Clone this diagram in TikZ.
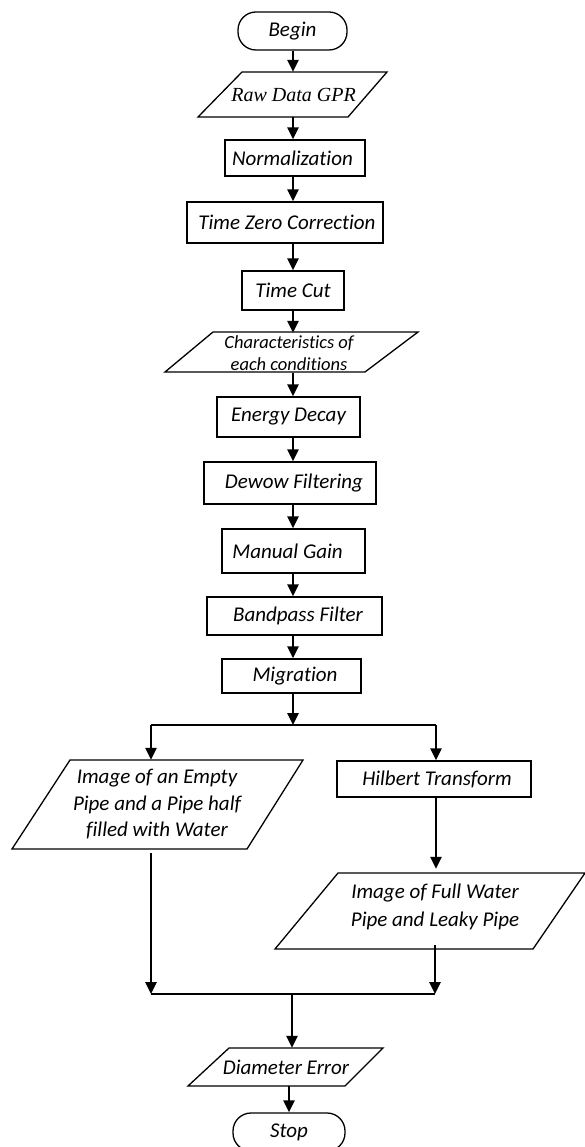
\documentclass[tikz,border=0pt]{standalone}
\usepackage{fontspec}
\setmainfont{Carlito}[Ligatures=NoCommon]
\newfontfamily\timesf{Liberation Serif}
\usetikzlibrary{arrows.meta}
\begin{document}
\begin{tikzpicture}[x=1pt,y=-1pt,
  every node/.style={font=\fontsize{21}{26}\selectfont\itshape, inner sep=0pt, align=center},
  procbox/.style={draw, line width=1.3pt, minimum width=#1},
  termbox/.style={draw, line width=1.3pt, rounded corners=18pt, minimum width=#1},
  iobox/.style={line width=1.3pt},
  arr/.style={line width=2.5pt, -{Triangle[length=12pt,width=11pt]}},
  thin/.style={line width=1.2pt}
]
\useasboundingbox (0,0) rectangle (584,1147);
\coordinate (trunk) at (293,0);

% Begin
\node[termbox=109, minimum height=38] (begin) at (292.5,31) {Begin};
% Raw Data GPR
\draw[iobox] (242,72) -- (387,72) -- (348,117) -- (198,117) -- cycle;
\node[minimum height=45, font=\fontsize{20}{24}\selectfont\timesf\itshape] (raw) at (293.5,94.5) {Raw Data GPR};
% rectangles
\node[procbox=140, minimum height=36] (norm) at (295,158) {Normalization\hspace*{5pt}};
\node[procbox=196, minimum height=41] (tzc) at (285,222.5) {\hspace*{4pt}Time Zero Correction};
\node[procbox=102, minimum height=39] (tcut) at (293,290.5) {Time Cut};
% Characteristics
\draw[iobox] (213,332) -- (418,332) -- (365,372) -- (165,372) -- cycle;
\node[minimum height=40, font=\fontsize{18.5}{21.5}\selectfont\itshape] (chr) at (289,353) {Characteristics of\\each conditions};
\node[procbox=143, minimum height=40] (energy) at (288.5,417) {Energy Decay};
\node[procbox=172, minimum height=42] (dewow) at (290,483) {\hspace*{8pt}Dewow Filtering};
\node[procbox=143, minimum height=44] (gain) at (293.5,551) {Manual Gain\hspace*{12pt}};
\node[procbox=175, minimum height=38] (band) at (294.5,616) {\hspace*{7pt}Bandpass Filter};
\node[procbox=139, minimum height=34] (mig) at (291.5,676) {\hspace*{7pt}Migration};

% branch
\coordinate (split) at (293,725);
\coordinate (sl) at (151,725);
\coordinate (sr) at (436,725);
\draw[thin] (sl) -- (sr);

% left parallelogram
\draw[iobox] (70,760) -- (303,760) -- (247,849) -- (12,849) -- cycle;
\node[minimum height=89, font=\fontsize{21}{26.5}\selectfont\itshape] (empty) at (157,804.5) {Image of an Empty\\Pipe and a Pipe half\\filled with Water};
% Hilbert
\node[procbox=194, minimum height=36] (hil) at (434,779) {\hspace*{6pt}Hilbert Transform};
% right parallelogram
\draw[iobox] (338,873) -- (585,873) -- (533,949) -- (275,949) -- cycle;
\node[minimum height=76, font=\fontsize{21}{28}\selectfont\itshape] (full) at (435,907) {Image of Full Water\\Pipe and Leaky Pipe};

% merge
\coordinate (ml) at (151,994);
\coordinate (mr) at (435,994);
\coordinate (mc) at (292,994);
\coordinate (lstart) at (151,853);
\draw[thin] (ml) -- (mr);

% Diameter Error
\draw[iobox] (229,1048) -- (383,1048) -- (345,1086) -- (188,1086) -- cycle;
\node[minimum height=38] (diam) at (286,1067) {Diameter Error};
% Stop
\node[termbox=112, minimum height=38] (stop) at (289,1132) {Stop};

% arrows main trunk
\draw[arr] (begin.south -| trunk) -- (raw.north -| trunk);
\draw[arr] (raw.south -| trunk) -- (norm.north -| trunk);
\draw[arr] (norm.south -| trunk) -- (tzc.north -| trunk);
\draw[arr] (tzc.south -| trunk) -- (tcut.north -| trunk);
\draw[arr] (tcut.south -| trunk) -- (chr.north -| trunk);
\draw[arr] (chr.south -| trunk) -- (energy.north -| trunk);
\draw[arr] (energy.south -| trunk) -- (dewow.north -| trunk);
\draw[arr] (dewow.south -| trunk) -- (gain.north -| trunk);
\draw[arr] (gain.south -| trunk) -- (band.north -| trunk);
\draw[arr] (band.south -| trunk) -- (mig.north -| trunk);
\draw[arr] (mig.south -| trunk) -- (split);
\draw[arr] (sl) -- (sl |- empty.north);
\draw[arr] (sr) -- (sr |- hil.north);
\draw[arr] (hil.south -| sr) -- (sr |- full.north);
\draw[arr] (lstart) -- (ml);
\draw[arr] (full.south -| mr) -- (mr);
\draw[arr] (mc) -- (mc |- diam.north);
\draw[arr] (diam.south -| stop) -- (stop.north);
\end{tikzpicture}
\end{document}
